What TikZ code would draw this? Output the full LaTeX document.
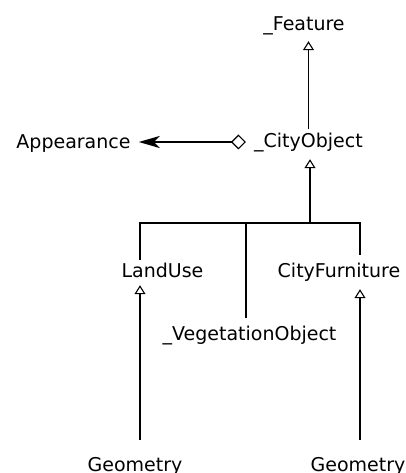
\documentclass[tikz,border=0pt]{standalone}
\usepackage{fontspec}
\setmainfont{DejaVu Sans}
\usetikzlibrary{arrows.meta}
\begin{document}
\begin{tikzpicture}[x=1pt, y=1pt,
    cls/.style={anchor=base, inner xsep=8pt, inner ysep=8pt, text height=14pt, text depth=4pt,
      font=\fontsize{19pt}{23pt}\selectfont},
    gen/.style={line width=2pt, -{Triangle[open, length=9pt, width=11pt, line width=1.1pt]}},
    agg/.style={line width=2.2pt, {Diamond[open, length=15pt, width=15pt, line width=1.1pt]}-{Stealth[length=21pt, width=12pt, inset=6pt]}},
    tree/.style={line width=2pt}]
    \useasboundingbox (0,0) rectangle (406,-473);
    \node[cls] (feature) at (304,-31) {\_Feature};
    \node[cls] (cityobj) at (308.5,-147) {\_CityObject};
    \node[cls] (appear) at (73.5,-149) {Appearance};
    \node[cls] (landuse) at (162.5,-277) {LandUse};
    \node[cls] (cityfurn) at (339,-277) {CityFurniture};
    \node[cls] (veg) at (249.5,-340) {\_VegetationObject};
    \node[cls] (geoleft) at (135,-471) {Geometry};
    \node[cls] (georight) at (358,-471) {Geometry};
    \coordinate (fork) at ([xshift=1.5pt, yshift=-64pt]cityobj.south);
    % generalisation and aggregation
    \draw[gen, line width=1.5pt, shorten <=-4pt, shorten >=-2pt] (cityobj.north) -- (cityobj.north |- feature.south);
    \draw[agg] (cityobj.west) -- (cityobj.west -| appear.east);
    \draw[gen] (fork) -- (fork |- cityobj.south);
    \draw[tree, shorten <=-5pt] ([xshift=-22.5pt]landuse.north) |- (fork);
    \draw[tree] ([xshift=-3.5pt]veg.north) |- (fork);
    \draw[tree] ([xshift=21pt]cityfurn.north) |- (fork);
    \draw[gen, shorten <=9pt, shorten >=-4pt] ([xshift=5pt]geoleft.north) -- ([xshift=5pt]geoleft.north |- landuse.south);
    \draw[gen, shorten <=9pt] ([xshift=2pt]georight.north) -- ([xshift=2pt]georight.north |- cityfurn.south);
\end{tikzpicture}
\end{document}
